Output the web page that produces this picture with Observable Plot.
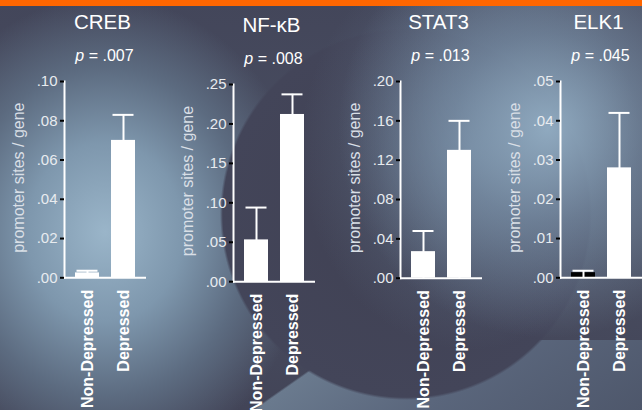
<!DOCTYPE html>
<html>
<head>
<meta charset="utf-8">
<script src="https://cdn.jsdelivr.net/npm/d3@7"></script>
<script src="https://cdn.jsdelivr.net/npm/@observablehq/plot@0.6"></script>
<style>
  html, body { margin: 0; padding: 0; }
  body { width: 642px; height: 410px; overflow: hidden; }
  #slide {
    position: relative;
    width: 642px;
    height: 410px;
    overflow: hidden;
    font-family: "Liberation Sans", Arial, sans-serif;
    background:
      linear-gradient(#ff6600, #ff6600) 0 0 / 100% 6px no-repeat,
      radial-gradient(circle 210px at 548px 128px, rgba(150,178,200,0.9) 0%, rgba(132,158,182,0.55) 45%, rgba(110,130,155,0) 100%),
      radial-gradient(ellipse 170px 200px at 470px 150px, rgba(112,132,155,0.75) 0%, rgba(100,118,142,0.35) 55%, rgba(90,105,130,0) 100%),
      radial-gradient(circle 186px at 406px 214px, #404153 0%, #434559 98.5%, rgba(67,69,89,0) 100%),
      linear-gradient(145deg, rgba(0,0,0,0) 64px, #6a7a8e 66px, #5a667c 160px, #4e576b 100%) 240px 340px / 402px 70px no-repeat,
      radial-gradient(ellipse 205px 235px at 105px 232px, #9ab5c9 0%, #7e97ad 38%, #5c6b80 70%, rgba(70,75,95,0) 100%),
      linear-gradient(180deg, #43465a 0%, #4a4f62 55%, #424457 100%);
  }
  #slide svg { position: absolute; top: 0; }
</style>
</head>
<body>
<div id="slide"></div>
<script>
// Promoter sites per gene for four transcription factors, by group
const groups = ["Non-Depressed", "Depressed"];
const genes = ["CREB", "NF-κB", "STAT3", "ELK1"];
const pValues = [".007", ".008", ".013", ".045"];
const axisMax = [0.10, 0.25, 0.20, 0.05];
const tickStep = [0.02, 0.05, 0.04, 0.01];
const nonDepressedMean = [0.0025, 0.053, 0.027, 0.0013];
const nonDepressedSem = [0.0011, 0.041, 0.021, 0.0005];
const depressedMean = [0.070, 0.212, 0.130, 0.028];
const depressedSem = [0.013, 0.0255, 0.030, 0.014];

// Panel placement: left edge of each y axis, and pixel rows of the
// zero baseline and of the top tick.
const axisLeft = [64, 233, 400, 560];
const baseRow = [277.3, 281.2, 277.7, 277.3];
const topRow = [81, 84, 81, 81];

const font = "'Liberation Sans', Arial, sans-serif";
const slide = document.getElementById("slide");

genes.forEach((gene, i) => {
  const rows = [
    {gene, group: groups[0], mean: nonDepressedMean[i], sem: nonDepressedSem[i]},
    {gene, group: groups[1], mean: depressedMean[i], sem: depressedSem[i]}
  ];
  const step = tickStep[i];
  const nTicks = Math.round(axisMax[i] / step);
  const ticks = d3.range(nTicks + 1).map((k) => +(k * step).toFixed(3));
  const fmt = (d) => d3.format(".2f")(d).replace(/^0/, "");

  const chart = Plot.plot({
    width: 160,
    height: 410,
    marginLeft: 64,
    marginRight: 14,
    marginTop: topRow[i],
    marginBottom: 410 - baseRow[i],
    style: {background: "transparent", overflow: "visible", fontFamily: font, color: "white"},
    x: {domain: groups, paddingInner: 0.32, paddingOuter: 0.27, axis: null},
    y: {domain: [0, axisMax[i]]},
    marks: [
      Plot.barY(rows, {
        x: "group",
        y: "mean",
        fill: (d) => (d.gene === "ELK1" && d.group === "Non-Depressed" ? "black" : "white")
      }),
      // upward error bars (mean + SEM)
      Plot.ruleX(rows, {x: "group", y1: 0, y2: (d) => d.mean + d.sem, stroke: "white", strokeWidth: 2}),
      Plot.tickY(rows, {x: "group", y: (d) => d.mean + d.sem, stroke: "white", strokeWidth: 2, insetLeft: 1.5, insetRight: 1.5}),
      Plot.ruleY([0], {stroke: "white", strokeWidth: 2}),
      Plot.frame({anchor: "left", stroke: "white", strokeWidth: 2}),
      Plot.axisY({
        ticks,
        tickFormat: fmt,
        tickSize: 4,
        tickPadding: 3,
        stroke: "black",
        strokeWidth: 2,
        fill: "#e8ebef",
        fontSize: 15,
        label: null
      }),
      Plot.text(["promoter sites / gene"], {
        frameAnchor: "left",
        textAnchor: "middle",
        lineAnchor: "middle",
        rotate: -90,
        dx: -46,
        dy: -2,
        fontSize: 16,
        fill: "#d9dfe6"
      }),
      Plot.text(groups, {
        x: (d) => d,
        frameAnchor: "bottom",
        rotate: -90,
        textAnchor: "end",
        lineAnchor: "middle",
        dy: 12,
        fontSize: 16,
        fontWeight: "bold",
        fill: "white"
      }),
      Plot.text([gene], {
        frameAnchor: "top",
        textAnchor: "middle",
        lineAnchor: "middle",
        dx: -3,
        dy: -59.5,
        fontSize: 20.5,
        fill: "white"
      }),
      Plot.text(["p"], {
        frameAnchor: "top",
        textAnchor: "end",
        lineAnchor: "middle",
        dx: -21.3,
        dy: -26.1,
        fontSize: 16,
        fontStyle: "italic",
        fill: "white"
      }),
      Plot.text([pValues[i]], {
        frameAnchor: "top",
        textAnchor: "start",
        lineAnchor: "middle",
        text: (d) => " = " + d,
        dx: -21.3,
        dy: -26.1,
        fontSize: 16,
        fill: "white"
      })
    ]
  });
  chart.style.left = (axisLeft[i] - 64) + "px";
  slide.appendChild(chart);
});
</script>
</body>
</html>
